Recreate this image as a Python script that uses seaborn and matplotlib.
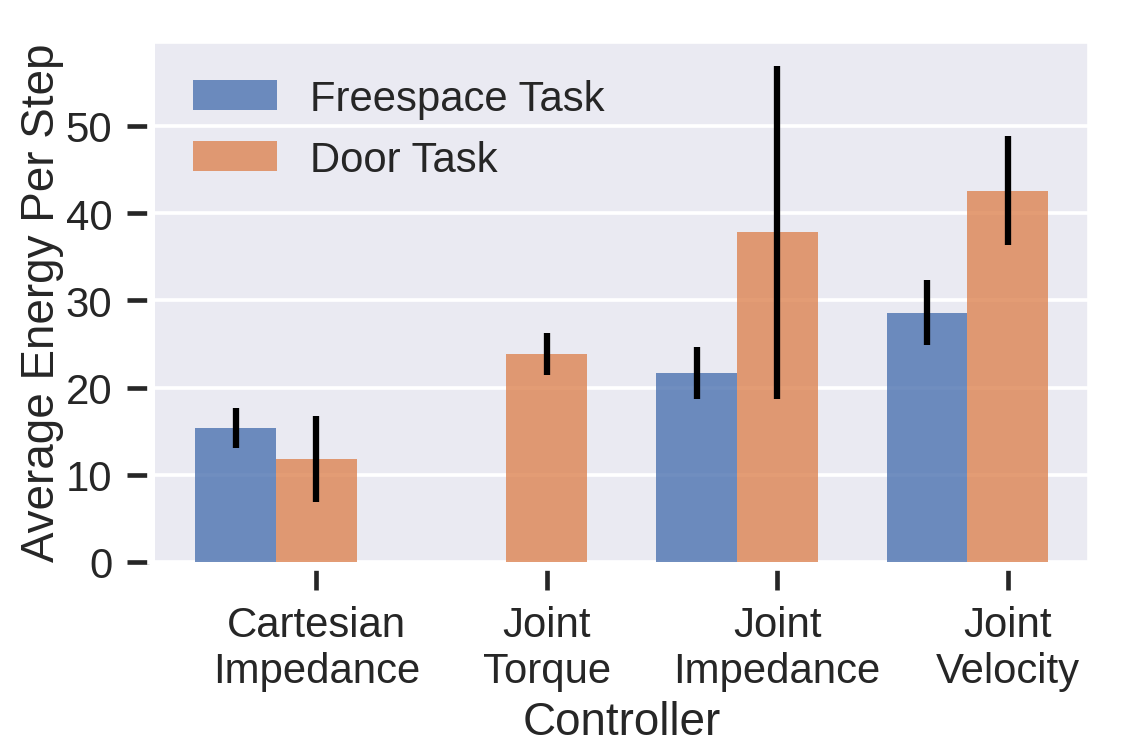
import numpy as np
import pandas as pd
import seaborn as sns
import matplotlib.pyplot as plt

controllers = ['Cartesian\nImpedance', 'Joint\nTorque', 'Joint\nImpedance', 'Joint\nVelocity']
tasks = ['Freespace Task', 'Door Task']

freespace_mean = [15.4, np.nan, 21.7, 28.6]
freespace_err = [2.3, np.nan, 3.0, 3.7]
door_mean = [11.8, 23.9, 37.8, 42.6]
door_err = [4.9, 2.4, 19.1, 6.2]

sns.set_theme(context='poster', style='darkgrid', palette='deep', font_scale=1.03)
plt.rcParams['font.family'] = ['Liberation Sans', 'DejaVu Sans']
plt.rcParams['xtick.bottom'] = True
plt.rcParams['ytick.left'] = True

frame = pd.DataFrame({
    'Controller': controllers * 2,
    'task': [tasks[0]] * len(controllers) + [tasks[1]] * len(controllers),
    'energy': freespace_mean + door_mean,
    'err': freespace_err + door_err,
})

width = 0.35
ind = np.arange(len(controllers))

fig, ax = plt.subplots(figsize=(8.49, 5.67), dpi=133.33)
sns.barplot(data=frame.dropna(), x='Controller', y='energy', hue='task',
            order=controllers, hue_order=tasks, errorbar=None, width=2 * width,
            saturation=1, alpha=0.8, linewidth=0, ax=ax)

# error bars drawn by hand, mean +- err is all we have
for off, task in zip([-width / 2, width / 2], tasks):
    sub = frame[frame['task'] == task]
    ax.errorbar(ind + off, sub['energy'], yerr=sub['err'], fmt='none',
                ecolor='black', elinewidth=3.4, capsize=0, zorder=5)

ax.set_xticks(ind + width / 2, controllers)
ax.set_xlim(-0.525, 3.528)
ax.set_ylim(bottom=0)
ax.set_xlabel('Controller', labelpad=5)
ax.set_ylabel('Average Energy Per Step', labelpad=1)
ax.legend(frameon=False, loc='upper left')

# ticks sit a little off the axes, like the original
ax.spines['left'].set_position(('outward', 3))
ax.spines['bottom'].set_position(('outward', 3))
ax.tick_params(axis='y', pad=8)
ax.tick_params(axis='x', pad=8)

fig.subplots_adjust(left=155 / 1132, right=1089 / 1132, top=1 - 42 / 756, bottom=1 - 563 / 756)
fig.savefig('out.png', dpi=133.33)
